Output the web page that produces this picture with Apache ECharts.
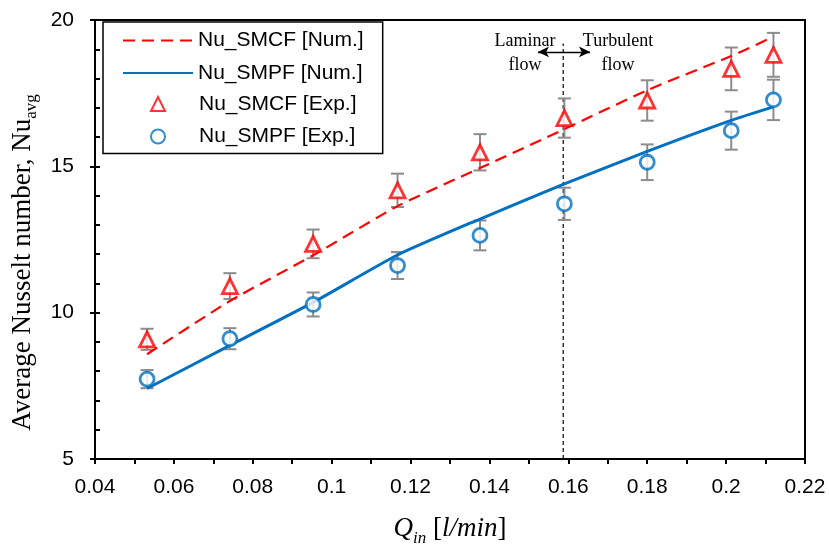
<!DOCTYPE html>
<html>
<head>
<meta charset="utf-8">
<script src="https://cdn.jsdelivr.net/npm/echarts@6/dist/echarts.min.js"></script>
<style>
  html, body { margin: 0; padding: 0; background: #fff; }
  #chart { width: 829px; height: 552px; }
</style>
</head>
<body>
<div id="chart"></div>
<script>
// Inlet flow rate Q_in [l/min]
const flowRate = [0.0532, 0.0742, 0.0953, 0.1167, 0.1376, 0.1590, 0.1800, 0.2013, 0.2120];
// Numerical average Nusselt numbers
const nuSmcfNum = [8.58, 10.40, 11.96, 13.64, 14.94, 16.27, 17.60, 18.77, 19.43];
const nuSmpfNum = [7.41, 8.88, 10.35, 11.97, 13.20, 14.40, 15.51, 16.57, 17.03];
// Experimental average Nusselt numbers and their uncertainty
const nuSmcfExp = [9.09, 10.91, 12.35, 14.18, 15.48, 16.65, 17.25, 18.33, 18.81];
const nuSmpfExp = [7.73, 9.11, 10.28, 11.61, 12.64, 13.72, 15.14, 16.22, 17.27];
const errSmcf = [0.36, 0.44, 0.49, 0.57, 0.62, 0.67, 0.69, 0.73, 0.75];
const errSmpf = [0.31, 0.36, 0.41, 0.46, 0.51, 0.55, 0.61, 0.65, 0.69];
// Axis ranges
const xRange = [0.04, 0.22, 0.02];
const yRange = [5, 20, 5];
// Laminar / turbulent transition
const transitionQ = 0.1587;
const transitionTop = 19.2;
const arrowSpan = [0.1523, 0.1655, 18.91];
const regimeLabels = [
  { text: 'Laminar\nflow', q: 0.149, nu: 18.88 },
  { text: 'Turbulent\nflow', q: 0.1726, nu: 18.88 }
];
const names = ['Nu_SMCF [Num.]', 'Nu_SMPF [Num.]', 'Nu_SMCF [Exp.]', 'Nu_SMPF [Exp.]'];

const SANS = '"Liberation Sans", Arial, sans-serif';
const SERIF = '"Liberation Serif", "Times New Roman", serif';

const zip = (xs, ys) => xs.map((x, i) => [x, ys[i]]);

function errorBars(vals, errs) {
  return {
    type: 'custom',
    silent: true,
    z: 3,
    data: flowRate.map((q, i) => [q, vals[i] - errs[i], vals[i] + errs[i]]),
    encode: { x: 0, y: [1, 2] },
    renderItem(params, api) {
      const lo = api.coord([api.value(0), api.value(1)]);
      const hi = api.coord([api.value(0), api.value(2)]);
      const w = 6.5;
      const st = { stroke: '#8c8c8c', lineWidth: 2 };
      return {
        type: 'group',
        children: [
          { type: 'line', shape: { x1: lo[0], y1: lo[1], x2: hi[0], y2: hi[1] }, style: st },
          { type: 'line', shape: { x1: lo[0] - w, y1: lo[1], x2: lo[0] + w, y2: lo[1] }, style: st },
          { type: 'line', shape: { x1: hi[0] - w, y1: hi[1], x2: hi[0] + w, y2: hi[1] }, style: st }
        ]
      };
    }
  };
}

// Line entries show only the stroke sample; marker entries sit in a second
// legend (narrow icons) drawn on top of the first legend's framed box.
const hiddenSymbol = { color: 'rgba(0,0,0,0)', borderColor: 'rgba(0,0,0,0)', borderWidth: 0 };
const legendText = { fontFamily: SANS, fontSize: 21, color: '#000' };

const chart = echarts.init(document.getElementById('chart'), null, { renderer: 'canvas' });

chart.setOption({
  animation: false,
  backgroundColor: '#fff',
  grid: {
    left: 95, right: 24, top: 20, bottom: 92,
    show: true, borderColor: '#000', borderWidth: 2, backgroundColor: 'transparent'
  },
  legend: [
    {
      data: [
        { name: names[0], itemStyle: hiddenSymbol },
        { name: names[1], itemStyle: hiddenSymbol }
      ],
      orient: 'vertical',
      left: 103, top: 22,
      z: 4,
      itemWidth: 70, itemHeight: 14, itemGap: 11.5,
      padding: [8, 19, 70, 19],
      borderColor: '#000', borderWidth: 1.5, backgroundColor: '#fff',
      textStyle: legendText
    },
    {
      data: [names[2], names[3]],
      orient: 'vertical',
      left: 150, top: 93.5,
      z: 6,
      itemWidth: 14, itemHeight: 14, itemGap: 11.5,
      padding: 0,
      textStyle: Object.assign({ padding: [0, 0, 0, 29] }, legendText)
    }
  ],
  xAxis: {
    type: 'value',
    min: xRange[0], max: xRange[1], interval: xRange[2],
    axisLine: { show: true, lineStyle: { color: '#000', width: 2 } },
    axisTick: { show: true, length: 5, lineStyle: { color: '#000', width: 2 } },
    minorTick: { show: true, splitNumber: 2, length: 5, lineStyle: { color: '#000', width: 2 } },
    splitLine: { show: false },
    axisLabel: { fontFamily: SANS, fontSize: 21, color: '#000', margin: 18 },
    name: '{q|Q}{sub|in}{n| [}{i|l/min}{n|]}',
    nameLocation: 'middle',
    nameGap: 52,
    nameTextStyle: {
      rich: {
        q: { fontFamily: SERIF, fontStyle: 'italic', fontSize: 27, color: '#000', lineHeight: 36, verticalAlign: 'middle' },
        sub: { fontFamily: SERIF, fontStyle: 'italic', fontSize: 17, color: '#000', lineHeight: 15, verticalAlign: 'bottom' },
        n: { fontFamily: SERIF, fontSize: 27, color: '#000', lineHeight: 36, verticalAlign: 'middle' },
        i: { fontFamily: SERIF, fontStyle: 'italic', fontSize: 27, color: '#000', lineHeight: 36, verticalAlign: 'middle' }
      }
    }
  },
  yAxis: [
    {
      type: 'value',
      min: yRange[0], max: yRange[1], interval: yRange[2],
      axisLine: { show: true, lineStyle: { color: '#000', width: 2 } },
      axisTick: { show: true, length: 5, lineStyle: { color: '#000', width: 2 } },
      splitLine: { show: false },
      axisLabel: { fontFamily: SANS, fontSize: 21, color: '#000', margin: 21 },
      name: '{t|Average Nusselt number, Nu}{s|avg}',
      nameLocation: 'middle',
      nameRotate: 90,
      nameGap: 47,
      nameTextStyle: {
        rich: {
          t: { fontFamily: SERIF, fontSize: 27, color: '#000', lineHeight: 34, verticalAlign: 'middle' },
          s: { fontFamily: SERIF, fontSize: 17, color: '#000', lineHeight: 17, verticalAlign: 'bottom', padding: [0, 46, 0, 0] }
        }
      }
    },
    {
      type: 'value',
      position: 'left',
      min: yRange[0], max: yRange[1], interval: 1,
      axisLine: { show: false },
      axisTick: { show: true, inside: true, length: 5, lineStyle: { color: '#000', width: 2 } },
      axisLabel: { show: false },
      splitLine: { show: false }
    }
  ],
  series: [
    {
      name: names[0],
      type: 'line',
      data: zip(flowRate, nuSmcfNum),
      symbol: 'none',
      smooth: 0.2,
      z: 4,
      itemStyle: { color: '#ff0000' },
      lineStyle: { color: '#ff0000', width: 2.2, type: [12, 7] }
    },
    {
      name: names[1],
      type: 'line',
      data: zip(flowRate, nuSmpfNum),
      symbol: 'none',
      smooth: 0.2,
      z: 4,
      itemStyle: { color: '#0070c0' },
      lineStyle: { color: '#0070c0', width: 3 }
    },
    errorBars(nuSmcfExp, errSmcf),
    errorBars(nuSmpfExp, errSmpf),
    {
      name: names[2],
      type: 'scatter',
      data: zip(flowRate, nuSmcfExp),
      symbol: 'triangle',
      symbolSize: 15,
      z: 6,
      itemStyle: { color: '#fff', borderColor: '#ff0000', borderWidth: 2.8 }
    },
    {
      name: names[3],
      type: 'scatter',
      data: zip(flowRate, nuSmpfExp),
      symbol: 'circle',
      symbolSize: 14,
      z: 6,
      itemStyle: { color: '#fff', borderColor: '#0070c0', borderWidth: 2.8 }
    },
    {
      name: 'transition',
      type: 'line',
      data: [[transitionQ, yRange[0]], [transitionQ, transitionTop]],
      symbol: 'none',
      z: 2,
      silent: true,
      lineStyle: { color: '#000', width: 1.2, type: [4, 3] },
      markLine: {
        silent: true,
        symbol: ['arrow', 'arrow'],
        symbolSize: [8, 11],
        label: { show: false },
        lineStyle: { color: '#000', width: 1.3, type: 'solid' },
        data: [[{ coord: [arrowSpan[0], arrowSpan[2]] }, { coord: [arrowSpan[1], arrowSpan[2]] }]]
      },
      markPoint: {
        silent: true,
        symbol: 'circle',
        symbolSize: 0,
        data: regimeLabels.map(r => ({
          coord: [r.q, r.nu],
          label: {
            show: true, position: 'inside', formatter: r.text,
            fontFamily: SERIF, fontSize: 18, lineHeight: 24, color: '#000'
          }
        }))
      }
    }
  ]
});
</script>
</body>
</html>
